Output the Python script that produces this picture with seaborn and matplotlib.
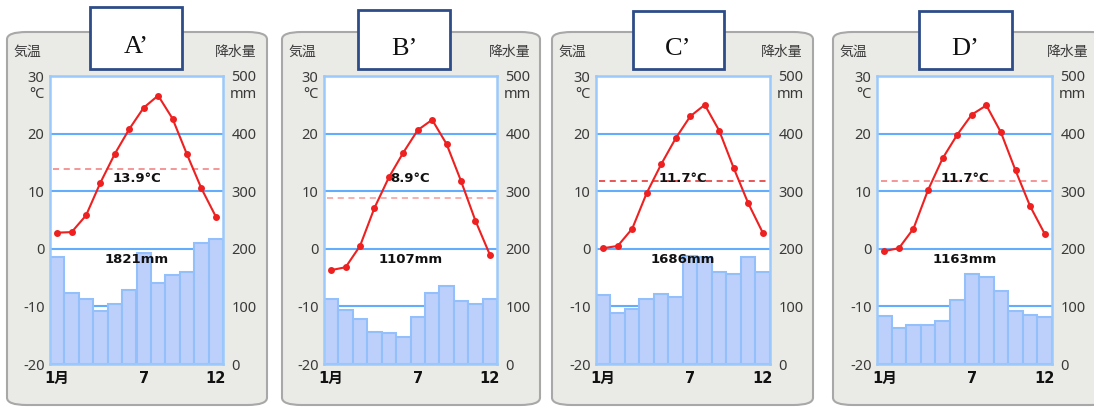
import matplotlib
matplotlib.use("Agg")
import matplotlib.pyplot as plt
import seaborn as sns
import numpy as np
import pandas as pd
from matplotlib.patches import FancyBboxPatch, Rectangle

sns.set_theme(style="white")
plt.rcParams['font.family'] = ['DejaVu Sans', 'Noto Sans CJK JP']

# ---------------- data ----------------
months = list(range(1, 13))
panel_labels = ["A’", "B’", "C’", "D’"]

temp_A = [2.8, 2.9, 5.8, 11.5, 16.5, 20.8, 24.5, 26.6, 22.6, 16.4, 10.5, 5.6]
temp_B = [-3.7, -3.2, 0.5, 7.1, 12.4, 16.7, 20.6, 22.4, 18.2, 11.8, 4.9, -1.0]
temp_C = [0.1, 0.5, 3.5, 9.7, 14.7, 19.2, 23.0, 25.0, 20.5, 14.0, 7.9, 2.8]
temp_D = [-0.4, 0.1, 3.5, 10.2, 15.7, 19.8, 23.3, 24.9, 20.2, 13.6, 7.4, 2.6]

prec_A = [186, 123, 113, 92, 104, 128, 192, 141, 155, 160, 210, 217]
prec_B = [113, 94, 78, 56, 53, 47, 81, 124, 136, 109, 104, 112]
prec_C = [119, 89, 96, 112, 122, 116, 188, 186, 160, 157, 185, 160]
prec_D = [83, 62, 68, 68, 75, 111, 157, 151, 127, 92, 85, 82]

mean_temp = [13.9, 8.9, 11.7, 11.7]
mean_temp_labels = ["13.9°C", "8.9°C", "11.7°C", "11.7°C"]
total_prec_labels = ["1821mm", "1107mm", "1686mm", "1163mm"]

temp_ticks = [-20, -10, 0, 10, 20, 30]
prec_ticks = [0, 100, 200, 300, 400, 500]
month_ticks = [1, 7, 12]
month_tick_labels = ["1月", "7", "12"]

temps = [temp_A, temp_B, temp_C, temp_D]
precs = [prec_A, prec_B, prec_C, prec_D]

# ---------------- layout (pixels) ----------------
W, H = 1094, 407
fig = plt.figure(figsize=(W / 100, H / 100), dpi=100)
fig.patch.set_facecolor("white")

def fx(x):
    return x / W

def fy(y):
    return 1 - y / H

panel_box = [(7, 267), (282, 540), (552, 813), (833, 1110)]
plot_x = [(50, 223), (324, 497), (596, 770), (877, 1052)]
title_box = [(90, 182, 7), (358, 450, 10), (633, 724, 11), (919, 1012, 11)]
mean_colors = ["#f07a7a", "#f59a9a", "#e22a2a", "#f07a7a"]

plot_top, plot_bot = 76, 364
panel_top, panel_bot = 32, 405

bg = "#eaebe6"
spine_c = "#9cc9fb"
grid_c = "#62aefc"
bar_fill = "#bcd0fb"
bar_edge = "#93c0fb"
red = "#ee2020"
txt = "#3a3a3a"
tick_font = ["Noto Sans", "DejaVu Sans"]

for i in range(4):
    # panel background
    x0, x1 = panel_box[i]
    fig.patches.append(FancyBboxPatch((fx(x0), fy(panel_bot)), fx(x1 - x0), (panel_bot - panel_top) / H,
                                      boxstyle="round,pad=0,rounding_size=0.018",
                                      transform=fig.transFigure, facecolor=bg,
                                      edgecolor="#a8a8a8", linewidth=1.5, zorder=0))
    # title box
    tx0, tx1, ty0 = title_box[i]
    fig.patches.append(Rectangle((fx(tx0), fy(69)), fx(tx1 - tx0), (69 - ty0) / H,
                                 transform=fig.transFigure, facecolor="white",
                                 edgecolor="#2e4c88", linewidth=2, zorder=1))
    fig.text(fx((tx0 + tx1) / 2), fy(53 + (ty0 - 7) * 0.6), panel_labels[i], ha="center", va="baseline",
             fontsize=19, family="Liberation Serif", color="#111111", zorder=2)

    px0, px1 = plot_x[i]
    rect = [fx(px0), fy(plot_bot), fx(px1 - px0), (plot_bot - plot_top) / H]
    ax_t = fig.add_axes(rect)
    ax_p = ax_t.twinx()

    df = pd.DataFrame({"month": months, "temp": temps[i], "prec": precs[i]})

    # precipitation bars (behind)
    ax_p.set_zorder(1)
    ax_t.set_zorder(2)
    ax_t.patch.set_visible(False)
    ax_p.patch.set_visible(True)
    ax_p.patch.set_facecolor("white")
    sns.barplot(data=df, x="month", y="prec", ax=ax_p, native_scale=True, width=1,
                color=bar_fill, saturation=1, edgecolor=bar_edge, linewidth=1.5, zorder=2)
    ax_p.set_ylim(0, 500)
    ax_p.set_yticks(prec_ticks)
    ax_p.set_yticklabels([str(v) for v in prec_ticks], family=tick_font)
    ax_p.set_axisbelow(True)
    ax_p.yaxis.grid(True, color=grid_c, linewidth=1.5)
    ax_p.xaxis.grid(False)
    ax_p.set_ylabel("")
    ax_p.set_xlabel("")
    ax_p.tick_params(axis="y", length=0, pad=6, labelsize=10.5, labelcolor=txt)
    for s in ax_p.spines.values():
        s.set_visible(False)

    # temperature line
    sns.lineplot(data=df, x="month", y="temp", ax=ax_t, color=red, marker="o",
                 markersize=5, markeredgewidth=0, linewidth=1.5, zorder=5)
    ax_t.axhline(mean_temp[i], xmin=0.02, xmax=0.98, color=mean_colors[i],
                 linestyle=(0, (4, 3)), linewidth=1.1, zorder=4)
    ax_t.set_ylim(-20, 30)
    ax_t.set_xlim(0.5, 12.5)
    ax_t.set_yticks(temp_ticks)
    ax_t.set_yticklabels([str(v) for v in temp_ticks], family=tick_font)
    ax_t.set_xticks(month_ticks)
    ax_t.set_xticklabels(month_tick_labels, fontweight="bold")
    ax_t.set_ylabel("")
    ax_t.set_xlabel("")
    ax_t.tick_params(axis="y", length=0, pad=4, labelsize=10.5, labelcolor=txt)
    ax_t.tick_params(axis="x", length=0, pad=5, labelsize=10.5, labelcolor="#111111")
    for s in ax_t.spines.values():
        s.set_visible(True)
        s.set_color(spine_c)
        s.set_linewidth(1.8)

    ax_t.text(0.5, 12.2, mean_temp_labels[i], transform=ax_t.get_yaxis_transform(),
              ha="center", va="center", fontsize=9.5, fontweight="bold", color="#111111", zorder=6)
    ax_t.text(0.5, -1.9, total_prec_labels[i], transform=ax_t.get_yaxis_transform(),
              ha="center", va="center", fontsize=9.5, fontweight="bold", color="#111111", zorder=6)

    # unit and axis captions
    fig.text(fx(px0 - 5), fy(94), "°C", ha="right", va="center", fontsize=10.5, color=txt, family=tick_font)
    fig.text(fx(px1 + 7), fy(94), "mm", ha="left", va="center", fontsize=10.5, color=txt, family=tick_font)
    fig.text(fx(x0 + 6), fy(52), "気温", ha="left", va="center", fontsize=10, color=txt)
    fig.text(fx(min(x1, 1094) - 10 if i < 3 else px1 + 36), fy(52), "降水量", ha="right", va="center",
             fontsize=10, color=txt)

fig.savefig("out.png", dpi=100, facecolor="white")
